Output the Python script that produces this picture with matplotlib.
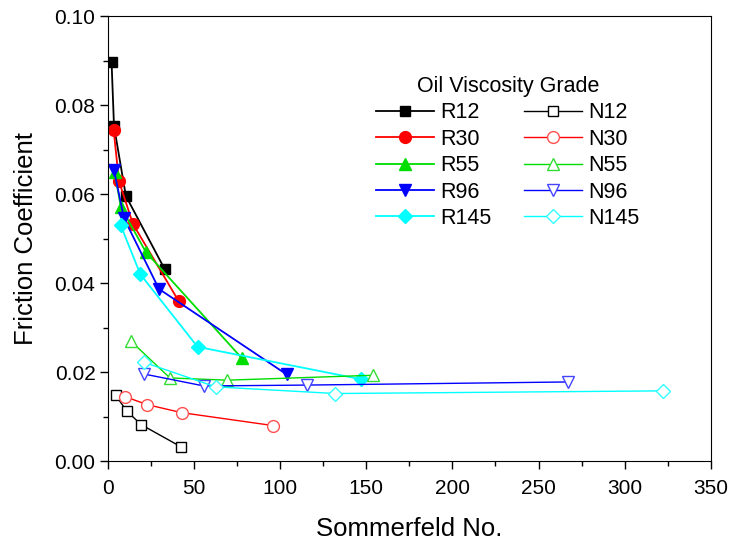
import matplotlib.pyplot as plt
from matplotlib.ticker import MultipleLocator

plt.rcParams['font.family'] = ['Liberation Sans', 'DejaVu Sans']

# Data (Sommerfeld No., friction coefficient)
r12_x = [2.1, 3.5, 10.4, 33.0]
r12_y = [0.0896, 0.0753, 0.0596, 0.0431]
r30_x = [3.3, 6.4, 14.5, 41.0]
r30_y = [0.0744, 0.0629, 0.0533, 0.0360]
r55_x = [3.8, 7.5, 22.0, 77.6]
r55_y = [0.0650, 0.0571, 0.0470, 0.0232]
r96_x = [3.5, 9.3, 29.6, 103.7]
r96_y = [0.0654, 0.0546, 0.0387, 0.0195]
r145_x = [7.4, 18.8, 52.0, 147.0]
r145_y = [0.0530, 0.0420, 0.0257, 0.0184]

n12_x = [4.5, 10.8, 19.3, 42.5]
n12_y = [0.0148, 0.0113, 0.0082, 0.0032]
n30_x = [9.9, 22.8, 42.8, 95.8]
n30_y = [0.0145, 0.0127, 0.0109, 0.0080]
n55_x = [13.2, 36.0, 69.3, 153.6]
n55_y = [0.0270, 0.0187, 0.0182, 0.0193]
n96_x = [20.7, 55.7, 115.7, 267.0]
n96_y = [0.0196, 0.0169, 0.0171, 0.0178]
n145_x = [21.0, 62.5, 132.0, 322.0]
n145_y = [0.0222, 0.0167, 0.0152, 0.0158]

fig = plt.figure(figsize=(7.32, 5.40), dpi=100)
ax = fig.add_axes([0.1475, 0.146, 0.8235, 0.824])

# filled markers (R series)
ax.plot(r12_x, r12_y, '-s', color='black', ms=7, lw=1.3, label='R12')
ax.plot(r30_x, r30_y, '-o', color='red', ms=8.5, lw=1.3, label='R30')
ax.plot(r55_x, r55_y, '-^', color='#00dd00', ms=8.5, lw=1.3, label='R55')
ax.plot(r96_x, r96_y, '-v', color='blue', ms=8.5, lw=1.3, label='R96')
ax.plot(r145_x, r145_y, '-D', color='cyan', ms=7, lw=1.3, label='R145')

# open markers (N series)
ax.plot(n12_x, n12_y, '-s', color='black', mfc='white', ms=7, lw=1.0, label='N12')
ax.plot(n30_x, n30_y, '-o', color='red', mec='#ff5050', mfc='white', ms=8.5, lw=1.0, label='N30')
ax.plot(n55_x, n55_y, '-^', color='#00dd00', mec='#33dd33', mfc='white', ms=8.5, lw=1.0, label='N55')
ax.plot(n96_x, n96_y, '-v', color='blue', mec='#4444ff', mfc='white', ms=8.5, lw=1.0, label='N96')
ax.plot(n145_x, n145_y, '-D', color='cyan', mec='#33ffff', mfc='white', ms=7, lw=1.0, label='N145')

ax.set_xlim(0, 350)
ax.set_ylim(0, 0.10)
ax.xaxis.set_major_locator(MultipleLocator(50))
ax.xaxis.set_minor_locator(MultipleLocator(25))
ax.yaxis.set_major_locator(MultipleLocator(0.02))
ax.yaxis.set_minor_locator(MultipleLocator(0.01))
ax.yaxis.set_major_formatter(plt.FormatStrFormatter('%.2f'))
ax.tick_params(which='major', direction='out', length=6, width=1, labelsize=15)
ax.tick_params(which='minor', direction='out', length=3.5, width=1)
ax.tick_params(axis='x', which='major', pad=6.5)
ax.tick_params(axis='y', which='major', pad=3)

ax.set_xlabel('Sommerfeld No.', fontsize=18.5, labelpad=14)
ax.set_ylabel('Friction Coefficient', fontsize=18.5, labelpad=12)

leg = ax.legend(ncol=2, title='Oil Viscosity Grade', frameon=False, fontsize=15.5,
                title_fontsize=15.5, loc='upper left', bbox_to_anchor=(0.43, 0.885),
                handlelength=2.7, columnspacing=1.5, labelspacing=0.25, handletextpad=0.3,
                borderaxespad=0)

fig.savefig('out.png', dpi=100)
